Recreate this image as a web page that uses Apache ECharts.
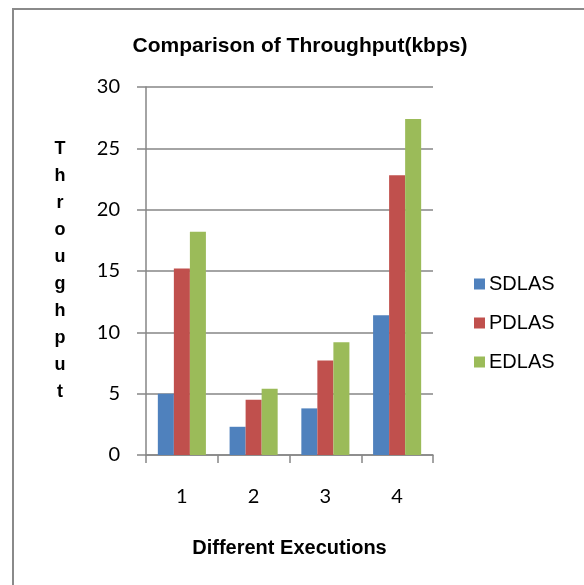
<!DOCTYPE html>
<html>
<head>
<meta charset="utf-8">
<script src="https://cdn.jsdelivr.net/npm/echarts@6/dist/echarts.min.js"></script>
<style>
  html, body { margin: 0; padding: 0; background: #fff; }
  #chart { width: 584px; height: 585px; }
</style>
</head>
<body>
<div id="chart"></div>
<script>
// data
var executions = ['1', '2', '3', '4']
var sdlas = [5.0, 2.3, 3.8, 11.4]
var pdlas = [15.2, 4.5, 7.7, 22.8]
var edlas = [18.2, 5.4, 9.2, 27.4]
var seriesNames = ['SDLAS', 'PDLAS', 'EDLAS']

var gridColor = '#868686'

var chart = echarts.init(document.getElementById('chart'))

var option = {
  animation: false,
  color: ['#4F81BD', '#C0504D', '#9BBB59'],
  title: {
    text: 'Comparison of Throughput(kbps)',
    left: 295,
    top: 31,
    textAlign: 'center',
    textStyle: {
      fontFamily: 'Liberation Sans, Arial',
      fontWeight: 'bold',
      fontSize: 21,
      color: '#000'
    }
  },
  legend: {
    orient: 'vertical',
    left: 469,
    top: 269,
    icon: 'rect',
    itemWidth: 11,
    itemHeight: 11,
    itemGap: 19,
    data: seriesNames,
    textStyle: {
      fontFamily: 'Liberation Sans, Arial',
      fontSize: 20,
      color: '#000',
      padding: [0, 0, 0, -1]
    }
  },
  grid: {
    left: 146,
    right: 151,
    top: 87,
    bottom: 130
  },
  xAxis: {
    type: 'category',
    data: executions,
    name: 'Different Executions',
    nameLocation: 'middle',
    nameGap: 83,
    nameTextStyle: {
      fontFamily: 'Liberation Sans, Arial',
      fontWeight: 'bold',
      fontSize: 20,
      color: '#000'
    },
    axisLine: { lineStyle: { color: gridColor, width: 1.5 } },
    axisTick: { show: true, length: 8, lineStyle: { color: gridColor, width: 1.5 } },
    axisLabel: {
      margin: 32,
      fontFamily: 'Lato, Noto Sans',
      fontSize: 20,
      color: '#000'
    }
  },
  yAxis: {
    type: 'value',
    min: 0,
    max: 30,
    interval: 5,
    name: 'T\nh\nr\no\nu\ng\nh\np\nu\nt',
    nameLocation: 'middle',
    nameRotate: 0,
    nameGap: 86,
    nameTextStyle: {
      fontFamily: 'Liberation Sans, Arial',
      fontWeight: 'bold',
      fontSize: 18,
      lineHeight: 27,
      align: 'center',
      color: '#000'
    },
    axisLine: { show: true, lineStyle: { color: gridColor, width: 1.5 } },
    axisTick: { show: true, length: 9, lineStyle: { color: gridColor, width: 1.5 } },
    splitLine: { lineStyle: { color: gridColor, width: 1.5 } },
    axisLabel: {
      margin: 26,
      fontFamily: 'Lato, Noto Sans',
      fontSize: 20,
      color: '#000'
    }
  },
  graphic: [
    {
      type: 'rect',
      shape: { x: 13, y: 9, width: 700, height: 700 },
      style: { fill: null, stroke: '#8a8a8a', lineWidth: 2 },
      silent: true
    }
  ],
  series: [
    { name: seriesNames[0], type: 'bar', data: sdlas, barGap: '0%', barCategoryGap: '33%' },
    { name: seriesNames[1], type: 'bar', data: pdlas, barGap: '0%', barCategoryGap: '33%' },
    { name: seriesNames[2], type: 'bar', data: edlas, barGap: '0%', barCategoryGap: '33%' }
  ]
}

chart.setOption(option)
</script>
</body>
</html>
